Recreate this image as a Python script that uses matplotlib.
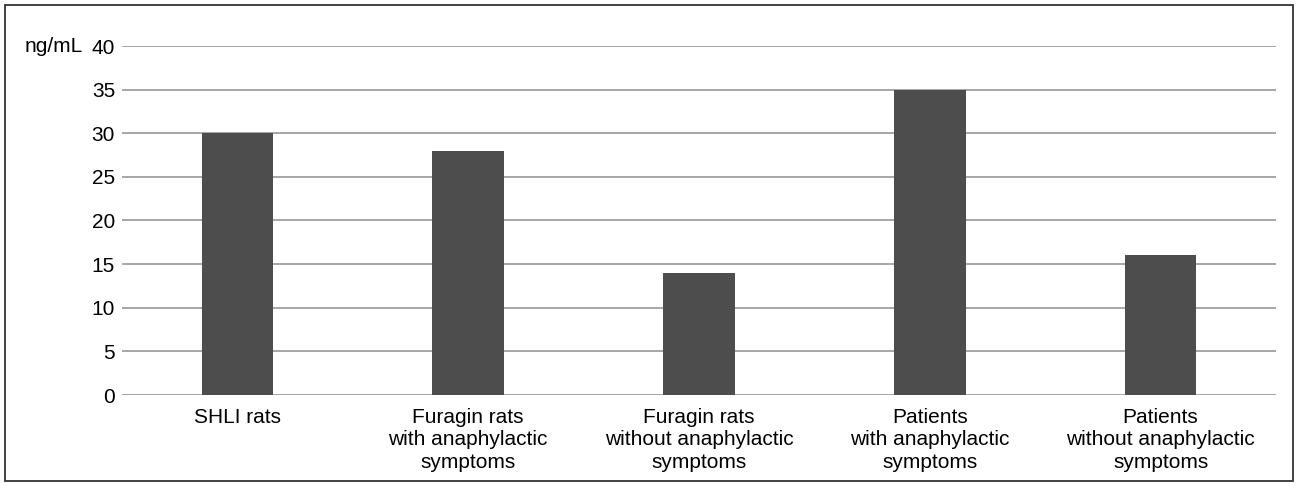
import matplotlib.pyplot as plt
from matplotlib.patches import Rectangle

categories = [
    "SHLI rats",
    "Furagin rats\nwith anaphylactic\nsymptoms",
    "Furagin rats\nwithout anaphylactic\nsymptoms",
    "Patients\nwith anaphylactic\nsymptoms",
    "Patients\nwithout anaphylactic\nsymptoms",
]
values = [30, 28, 14, 35, 16]
yticks = [0, 5, 10, 15, 20, 25, 30, 35, 40]

plt.rcParams["font.family"] = ["Liberation Sans", "DejaVu Sans"]
fs = 15

fig = plt.figure(figsize=(12.98, 4.86), dpi=100)
ax = fig.add_axes([122 / 1298, 1 - 395 / 486, (1276 - 122) / 1298, (395 - 46) / 486])

x = list(range(len(categories)))
ax.bar(x, values, width=0.31, color="#4d4d4d", zorder=3)
ax.set_xlim(-0.5, len(categories) - 0.5)
ax.set_ylim(0, 40)
ax.set_yticks(yticks)
ax.set_yticklabels([str(t) for t in yticks], fontsize=fs)
ax.set_xticks(x)
ax.set_xticklabels(categories, fontsize=fs, linespacing=1.25)
ax.tick_params(axis="y", length=0, pad=5)
ax.tick_params(axis="x", length=0, pad=9)
ax.grid(axis="y", color="#a6a6a6", linewidth=1.4, zorder=0)
for s in ax.spines.values():
    s.set_visible(False)

ax.annotate("ng/mL", xy=(0, 40), xycoords=("axes fraction", "data"),
            xytext=(-28, 0), textcoords="offset points", ha="right", va="center", fontsize=fs)

fig.patches.append(Rectangle((5 / 1298, 5 / 486), 1288 / 1298, 476 / 486, transform=fig.transFigure,
                             fill=False, edgecolor="#333333", linewidth=1.3))

fig.savefig("out.png", dpi=100)
